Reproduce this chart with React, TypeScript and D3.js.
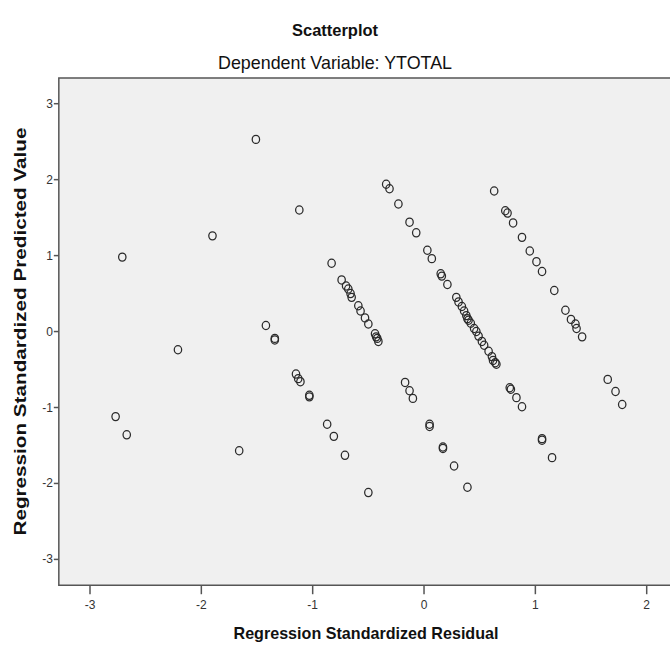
import React from 'react';
import * as d3 from 'd3';

// residual (x) and predicted value (y) for each case
const residuals = [
  -2.71, -2.21, -1.90, -1.51, -1.42, -1.34, -1.34, -2.77, -2.67, -1.66, -1.12,
  -1.15, -1.13, -1.11, -1.03, -1.03, -0.87, -0.81, -0.71, -0.50,
  -0.83, -0.74, -0.70, -0.68, -0.66, -0.65, -0.59, -0.57, -0.53, -0.50, -0.44, -0.43, -0.42, -0.41,
  -0.34, -0.31, -0.23, -0.13, -0.07, 0.03, 0.07, 0.15, 0.16, 0.21,
  0.29, 0.31, 0.34, 0.36, 0.38, 0.39, 0.40, 0.42, 0.45, 0.47, 0.49, 0.52, 0.54, 0.58, 0.61, 0.62, 0.64, 0.65,
  -0.17, -0.13, -0.10, 0.05, 0.05, 0.17, 0.17, 0.27, 0.39,
  0.63, 0.73, 0.75, 0.80, 0.88, 0.95, 1.01, 1.06, 1.17, 1.27, 1.32, 1.36, 1.37, 1.42,
  0.77, 0.78, 0.83, 0.88, 1.06, 1.06, 1.15,
  1.65, 1.72, 1.78,
];
const predicted = [
  0.98, -0.24, 1.26, 2.53, 0.08, -0.09, -0.11, -1.12, -1.36, -1.57, 1.60,
  -0.56, -0.62, -0.66, -0.84, -0.86, -1.22, -1.38, -1.63, -2.12,
  0.90, 0.68, 0.60, 0.56, 0.50, 0.45, 0.34, 0.27, 0.18, 0.10, -0.03, -0.07, -0.09, -0.13,
  1.94, 1.88, 1.68, 1.44, 1.30, 1.07, 0.96, 0.76, 0.73, 0.62,
  0.45, 0.39, 0.33, 0.27, 0.21, 0.17, 0.15, 0.11, 0.04, 0.00, -0.06, -0.13, -0.18, -0.26, -0.33, -0.38, -0.41, -0.43,
  -0.67, -0.78, -0.88, -1.22, -1.25, -1.52, -1.54, -1.77, -2.05,
  1.85, 1.59, 1.56, 1.43, 1.24, 1.06, 0.92, 0.79, 0.54, 0.28, 0.16, 0.10, 0.04, -0.07,
  -0.74, -0.76, -0.87, -0.99, -1.41, -1.43, -1.66,
  -0.63, -0.79, -0.96,
];
const xTicks = [-3, -2, -1, 0, 1, 2];
const yTicks = [-3, -2, -1, 0, 1, 2, 3];

const W = 670;
const H = 647;
const font = '"Liberation Sans", Arial, sans-serif';

export default function App() {
  const x = d3.scaleLinear().domain([-3, 2]).range([90, 646.7]);
  const y = d3.scaleLinear().domain([-3, 3]).range([559.4, 103.7]);

  const left = x(-3.28);
  const right = x(2.5);
  const top = y(3.34);
  const bottom = y(-3.34);

  const points = residuals.map((r, i) => ({ r, p: predicted[i] }));

  return (
    <svg width={W} height={H} style={{ position: 'absolute', left: 0, top: 0, background: '#fff' }}>
      <text x={335} y={36} textAnchor="middle" fontFamily={font} fontWeight="bold" fontSize={17}
        textLength={86} lengthAdjust="spacingAndGlyphs" fill="#111">
        Scatterplot
      </text>
      <text x={335} y={69} textAnchor="middle" fontFamily={font} fontSize={19}
        textLength={234} lengthAdjust="spacingAndGlyphs" fill="#111">
        Dependent Variable: YTOTAL
      </text>

      <rect x={left} y={top} width={right - left} height={bottom - top} fill="#f0f0f0" />
      <path
        d={`M${right},${top}H${left}V${bottom}H${right}`}
        fill="none"
        stroke="#555"
        strokeWidth={1.5}
      />

      {yTicks.map(t => (
        <g key={'y' + t}>
          <line x1={left - 5} x2={left} y1={y(t)} y2={y(t)} stroke="#555" strokeWidth={1.5} />
          <text x={left - 6} y={y(t) + 4} textAnchor="end" fontFamily={font} fontSize={12} fill="#333">
            {t}
          </text>
        </g>
      ))}
      {xTicks.map(t => (
        <g key={'x' + t}>
          <line x1={x(t)} x2={x(t)} y1={bottom} y2={bottom + 9} stroke="#555" strokeWidth={1.5} />
          <text x={x(t)} y={bottom + 24} textAnchor="middle" fontFamily={font} fontSize={12} fill="#333">
            {t}
          </text>
        </g>
      ))}

      {points.map((d, i) => (
        <ellipse
          key={i}
          cx={x(d.r)}
          cy={y(d.p)}
          rx={3.7}
          ry={4.1}
          fill="none"
          stroke="#2a2a2a"
          strokeWidth={1.25}
        />
      ))}

      <text x={366} y={639} textAnchor="middle" fontFamily={font} fontWeight="bold" fontSize={17}
        textLength={265} lengthAdjust="spacingAndGlyphs" fill="#111">
        Regression Standardized Residual
      </text>
      <text
        transform={`translate(26,${(top + bottom) / 2}) rotate(-90)`}
        textAnchor="middle"
        fontFamily={font}
        fontWeight="bold"
        fontSize={17}
        textLength={408}
        lengthAdjust="spacingAndGlyphs"
        fill="#111"
      >
        Regression Standardized Predicted Value
      </text>
    </svg>
  );
}
